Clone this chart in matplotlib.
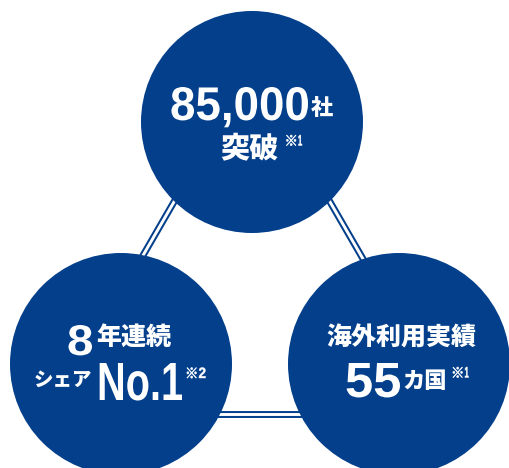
"""Three-circle achievement badge (85,000社 / 8年連続 / 海外55カ国)."""

import matplotlib

matplotlib.use("Agg")
import matplotlib.pyplot as plt
from matplotlib.font_manager import FontProperties
from matplotlib.patches import Circle, PathPatch, Polygon
from matplotlib.textpath import TextPath
from matplotlib.transforms import Affine2D

NAVY = "#033f8b"
JP = ["Noto Sans CJK JP", "DejaVu Sans"]
NUM_PROP = FontProperties(family="Liberation Sans", weight="bold")
MARK_PROP = FontProperties(family="Noto Sans CJK JP", weight="black")

# badge texts
TOP_NUMBER = "85,000"
TOP_UNIT = "社"
TOP_WORD = "突破"
LEFT_NUMBER = "8"
LEFT_WORD = "年連続"
LEFT_PREFIX = "シェア"
LEFT_RANK = "No.1"
RIGHT_WORD = "海外利用実績"
RIGHT_NUMBER = "55"
RIGHT_UNIT = "カ国"
NOTE_MARK = "※"
NOTES = ["1", "2", "1"]

W, H = 509, 468
CENTERS = [(252, 122), (121, 364), (399, 364)]
RADIUS = 111
TRIANGLE = [(252, 67), (51, 414.5), (453, 414.5)]

fig = plt.figure(figsize=(W / 100, H / 100), dpi=100)
ax = fig.add_axes([0, 0, 1, 1])
ax.set_xlim(0, W)
ax.set_ylim(H, 0)
ax.set_aspect("equal")
ax.axis("off")

# double line triangle behind the circles
ax.add_patch(Polygon(TRIANGLE, closed=True, fill=False, edgecolor=NAVY,
                     linewidth=5.0, joinstyle="miter", zorder=1))
ax.add_patch(Polygon(TRIANGLE, closed=True, fill=False, edgecolor="white",
                     linewidth=2.1, joinstyle="miter", zorder=2))

for cx, cy in CENTERS:
    ax.add_patch(Circle((cx, cy), RADIUS, facecolor=NAVY, edgecolor="none", zorder=3))


def put(x, y, s, size, family=JP):
    ax.text(x, y, s, color="white", fontsize=size, family=family, fontweight="black",
            ha="left", va="center", zorder=5)


def fit(s, x0, x1, top, bottom, prop=NUM_PROP, baseline=True, stroke=0.0):
    # glyph outlines squeezed into a pixel box (condensed display figures)
    tp = TextPath((0, 0), s, size=1, prop=prop)
    verts = tp.vertices
    xmin, xmax = verts[:, 0].min(), verts[:, 0].max()
    ymin = 0.0 if baseline else verts[:, 1].min()
    ymax = verts[:, 1].max()
    sx = (x1 - x0) / (xmax - xmin)
    sy = (bottom - top) / (ymax - ymin)
    tr = Affine2D().translate(-xmin, -ymin).scale(sx, -sy).translate(x0, bottom)
    ax.add_patch(PathPatch(tr.transform_path(tp), facecolor="white",
                           edgecolor="white" if stroke else "none",
                           linewidth=stroke, zorder=5))


def note(digit, x, top):
    fit(NOTE_MARK, x, x + 11.5, top, top + 11, prop=MARK_PROP, baseline=False, stroke=0.4)
    fit(digit, x + 13.5, x + 20.5 if digit != "1" else x + 17.5, top, top + 10.5, stroke=0.3)


# top circle
fit(TOP_NUMBER, 170, 308, 87, 120)
put(311, 108.5, TOP_UNIT, 16)
put(220, 150, TOP_WORD, 21)
note(NOTES[0], 284.5, 135)

# left circle
fit(LEFT_NUMBER, 67, 92, 325, 355)
put(96, 336.5, LEFT_WORD, 18)
put(34, 380, LEFT_PREFIX, 14)
fit(LEFT_RANK, 97, 182, 363, 400)
note(NOTES[1], 185, 367.5)

# right circle
put(326, 337.5, RIGHT_WORD, 18)
fit(RIGHT_NUMBER, 345, 400, 363, 397)
put(402, 382, RIGHT_UNIT, 16)
note(NOTES[2], 451, 367)

fig.savefig("out.png", dpi=100)
